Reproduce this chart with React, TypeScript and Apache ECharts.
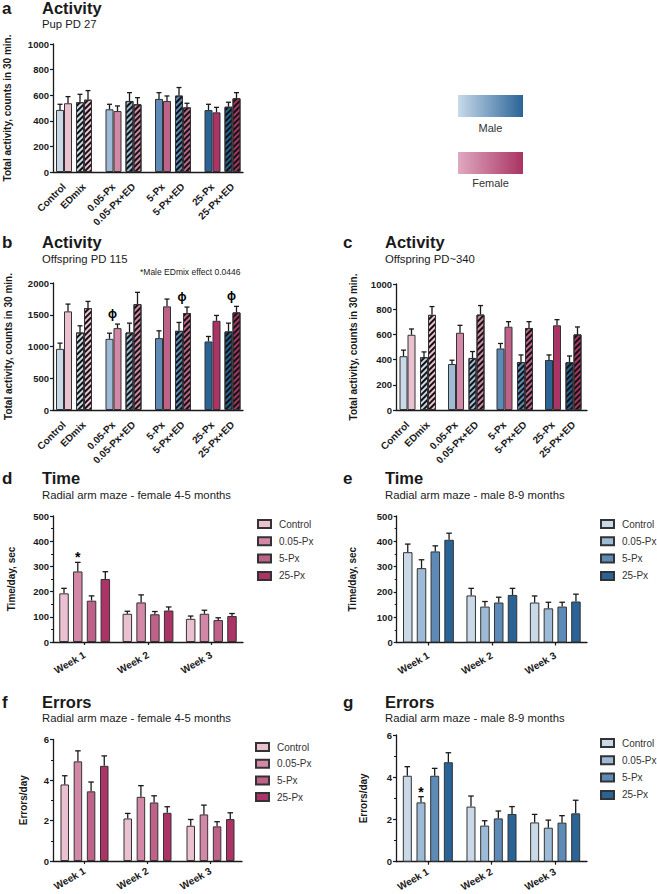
import React, { useEffect, useRef } from 'react';
import * as echarts from 'echarts';

const FONT = 'Arial, "Liberation Sans", Helvetica, sans-serif';
const INK = '#1a1a1a';

// ---------- categories ----------
const doseGroups = ['Control', '0.05-Px', '5-Px', '25-Px'];
const edGroups = ['EDmix', '0.05-Px+ED', '5-Px+ED', '25-Px+ED'];
const weeks = ['Week 1', 'Week 2', 'Week 3'];
const doseNames = ['Control', '0.05-Px', '5-Px', '25-Px'];

const maleColors = ['#c9d9e7', '#9dbad6', '#5e8ab8', '#2a6396'];
const femaleColors = ['#ebc0d1', '#d488a7', '#bf628a', '#ab3365'];

// ---------- panel a : Pup PD 27 ----------
const pupMale = [485, 490, 571, 484];
const pupMaleErr = [44, 39, 49, 45];
const pupFemale = [537, 476, 555, 466];
const pupFemaleErr = [52, 40, 39, 39];
const pupMaleED = [545, 555, 597, 510];
const pupMaleEDErr = [62, 65, 63, 35];
const pupFemaleED = [565, 529, 505, 576];
const pupFemaleEDErr = [71, 52, 32, 44];

// ---------- panel b : Offspring PD 115 ----------
const pd115Male = [963, 1121, 1132, 1079];
const pd115MaleErr = [90, 89, 115, 79];
const pd115Female = [1553, 1289, 1632, 1405];
const pd115FemaleErr = [115, 64, 115, 84];
const pd115MaleED = [1221, 1221, 1247, 1237];
const pd115MaleEDErr = [105, 147, 132, 131];
const pd115FemaleED = [1605, 1668, 1526, 1537];
const pd115FemaleEDErr = [105, 185, 95, 95];
const pd115Marks = ['', 'ϕ', '', ''];
const pd115MarksED = ['', '', 'ϕ', 'ϕ'];

// ---------- panel c : Offspring PD~340 ----------
const pd340Male = [427, 365, 488, 397];
const pd340MaleErr = [48, 30, 40, 40];
const pd340Female = [597, 613, 661, 672];
const pd340FemaleErr = [46, 59, 40, 45];
const pd340MaleED = [419, 413, 381, 379];
const pd340MaleEDErr = [42, 51, 56, 50];
const pd340FemaleED = [755, 757, 651, 600];
const pd340FemaleEDErr = [66, 72, 50, 59];

// ---------- panel d : Time, female (rows = dose, cols = week) ----------
const femaleTime = [
  [193, 112, 92],
  [280, 157, 112],
  [164, 110, 87],
  [250, 125, 103],
];
const femaleTimeErr = [
  [20, 10, 11],
  [36, 30, 14],
  [19, 11, 9],
  [29, 14, 10],
];
const femaleTimeMarks = [
  ['', '', ''],
  ['*', '', ''],
  ['', '', ''],
  ['', '', ''],
];

// ---------- panel e : Time, male ----------
const maleTime = [
  [357, 186, 158],
  [294, 142, 135],
  [360, 158, 142],
  [406, 188, 162],
];
const maleTimeErr = [
  [32, 28, 26],
  [33, 20, 24],
  [22, 21, 17],
  [26, 26, 29],
];

// ---------- panel f : Errors, female ----------
const femaleErrors = [
  [3.78, 2.1, 1.74],
  [4.92, 3.17, 2.3],
  [3.44, 2.89, 1.71],
  [4.7, 2.38, 2.07],
];
const femaleErrorsErr = [
  [0.43, 0.25, 0.31],
  [0.52, 0.55, 0.46],
  [0.46, 0.33, 0.23],
  [0.49, 0.3, 0.31],
];

// ---------- panel g : Errors, male ----------
const maleErrors = [
  [4.07, 2.61, 1.86],
  [2.81, 1.71, 1.61],
  [4.07, 2.05, 1.85],
  [4.71, 2.26, 2.29],
];
const maleErrorsErr = [
  [0.43, 0.5, 0.38],
  [0.27, 0.23, 0.36],
  [0.35, 0.35, 0.33],
  [0.45, 0.35, 0.62],
];
const maleErrorsMarks = [
  ['', '', ''],
  ['*', '', ''],
  ['', '', ''],
  ['', '', ''],
];

const hatch = {
  symbol: 'rect',
  symbolSize: 1,
  dashArrayX: [1, 0],
  dashArrayY: [2, 2],
  rotation: -Math.PI / 4,
  color: '#111111',
};

function buildOption() {
  const grid: any[] = [];
  const xAxis: any[] = [];
  const yAxis: any[] = [];
  const series: any[] = [];
  const legend: any[] = [];

  const addGrid = (g: any) => {
    grid.push({ ...g, containLabel: false, outerBoundsMode: 'none' });
    return grid.length - 1;
  };
  const addX = (a: any) => {
    xAxis.push(a);
    return xAxis.length - 1;
  };
  const addY = (a: any) => {
    yAxis.push(a);
    return yAxis.length - 1;
  };

  const axisLine = { show: true, onZero: true, lineStyle: { color: INK, width: 1.3 } };

  const yValueAxis = (gridIndex: number, max: number, interval: number, name: string, nameGap: number, minor: boolean) => ({
    gridIndex,
    type: 'value',
    min: 0,
    max,
    interval,
    axisLine,
    axisTick: { show: true, length: 3, lineStyle: { color: INK, width: 1.2 } },
    minorTick: minor
      ? { show: true, splitNumber: 2, length: 2, lineStyle: { color: INK, width: 1 } }
      : { show: false },
    splitLine: { show: false },
    minorSplitLine: { show: false },
    axisLabel: {
      fontSize: 9.5,
      fontWeight: 'bold',
      color: INK,
      margin: 4,
      fontFamily: FONT,
      formatter: (v: number) => String(v),
    },
    name,
    nameLocation: 'middle',
    nameGap,
    nameRotate: 90,
    nameMoveOverlap: false,
    nameTextStyle: { fontSize: 10, fontWeight: 'bold', color: INK, fontFamily: FONT },
  });

  // error bar (upper whisker) + optional annotation mark placed above markTops
  const errSeries = (
    xi: number,
    yi: number,
    means: number[],
    errs: number[],
    offset: number,
    capHalf: number,
    marks?: string[],
    markTops?: number[],
    markDx = 0,
    markFont = `bold 14px ${FONT}`,
    markGap = -2,
  ) => ({
    type: 'custom',
    xAxisIndex: xi,
    yAxisIndex: yi,
    silent: true,
    clip: false,
    z: 4,
    data: means.map((m, i) => [i, m, m + errs[i], markTops ? markTops[i] : m + errs[i]]),
    encode: { x: 0, y: [1, 2, 3] },
    renderItem: (_params: any, api: any) => {
      const i = api.value(0);
      const b = api.coord([i, api.value(1)]);
      const t = api.coord([i, api.value(2)]);
      const mt = api.coord([i, api.value(3)]);
      const x = b[0] + offset;
      const st = { stroke: INK, lineWidth: 1.3 };
      const children: any[] = [
        { type: 'line', shape: { x1: x, y1: b[1], x2: x, y2: t[1] }, style: st },
        { type: 'line', shape: { x1: x - capHalf, y1: t[1], x2: x + capHalf, y2: t[1] }, style: st },
      ];
      const mk = marks ? marks[i] : '';
      if (mk) {
        children.push({
          type: 'text',
          style: {
            text: mk,
            x: x + markDx,
            y: mt[1] - markGap,
            fill: '#000',
            font: markFont,
            align: 'center',
            textAlign: 'center',
            verticalAlign: 'bottom',
            textVerticalAlign: 'bottom',
          },
        });
      }
      return { type: 'group', children };
    },
  });

  const PAIR_W = 8;

  const activityPanel = (p: any) => {
    const gA = addGrid({ left: p.left, top: p.top, width: p.width, height: p.height });
    addX({
      gridIndex: gA,
      type: 'value',
      min: 0,
      max: 1,
      axisLine,
      axisTick: { show: false },
      axisLabel: { show: false },
      splitLine: { show: false },
    });
    addY(yValueAxis(gA, p.max, p.interval, 'Total activity, counts in 30 min.', p.nameGap, false));

    const sets = [
      { cats: doseGroups, shift: 0, m: p.male, me: p.maleErr, f: p.female, fe: p.femaleErr, marks: p.marks, hatched: false },
      { cats: edGroups, shift: p.edShift, m: p.maleED, me: p.maleEDErr, f: p.femaleED, fe: p.femaleEDErr, marks: p.marksED, hatched: true },
    ];
    sets.forEach((s) => {
      const gi = addGrid({ left: p.firstCenter - p.band / 2 + s.shift, top: p.top, width: p.band * 4, height: p.height });
      const xi = addX({
        gridIndex: gi,
        type: 'category',
        data: s.cats,
        axisLine: { show: false },
        axisTick: { show: false },
        axisLabel: {
          rotate: 45,
          interval: 0,
          margin: 13,
          fontSize: 10,
          fontWeight: 'bold',
          color: INK,
          fontFamily: FONT,
        },
      });
      const yi = addY({ gridIndex: gi, type: 'value', min: 0, max: p.max, show: false, splitLine: { show: false } });
      [
        { vals: s.m, colors: maleColors },
        { vals: s.f, colors: femaleColors },
      ].forEach((b) => {
        series.push({
          type: 'bar',
          xAxisIndex: xi,
          yAxisIndex: yi,
          data: b.vals,
          barWidth: PAIR_W,
          barGap: '0%',
          silent: true,
          itemStyle: {
            color: (prm: any) => b.colors[prm.dataIndex],
            borderColor: '#333',
            borderWidth: 1,
            decal: s.hatched ? hatch : undefined,
          },
        });
      });
      series.push(errSeries(xi, yi, s.m, s.me, -PAIR_W / 2, 2.5));
      const tops = s.m.map((v: number, i: number) => Math.max(v + s.me[i], s.f[i] + s.fe[i]));
      series.push(
        errSeries(xi, yi, s.f, s.fe, PAIR_W / 2, 2.5, s.marks, tops, -PAIR_W / 2 - 1, `bold 12px ${FONT}`, 4),
      );
    });
  };

  const mazePanel = (p: any) => {
    const gi = addGrid({ left: p.left, top: p.top, width: p.width, height: p.height });
    const xi = addX({
      gridIndex: gi,
      type: 'category',
      data: weeks,
      axisLine,
      axisTick: { show: true, alignWithLabel: true, length: 3, lineStyle: { color: INK, width: 1.2 } },
      axisLabel: {
        rotate: 30,
        interval: 0,
        margin: p.labelMargin,
        fontSize: 10,
        fontWeight: 'bold',
        color: INK,
        fontFamily: FONT,
      },
    });
    const yi = addY(yValueAxis(gi, p.max, p.interval, p.yName, p.nameGap, true));
    const bw = p.bw;
    const gap = p.gap;
    const total = 4 * bw + 3 * bw * gap;
    doseNames.forEach((d, k) => {
      series.push({
        type: 'bar',
        name: `${p.prefix}|${d}`,
        xAxisIndex: xi,
        yAxisIndex: yi,
        data: p.values[k],
        barWidth: bw,
        barGap: `${gap * 100}%`,
        silent: true,
        itemStyle: { color: p.colors[k], borderColor: '#333', borderWidth: 1 },
      });
      const off = -total / 2 + bw / 2 + k * bw * (1 + gap);
      series.push(errSeries(xi, yi, p.values[k], p.errs[k], off, 2.8, p.marks ? p.marks[k] : undefined));
    });
    legend.push({
      orient: 'vertical',
      left: p.legendLeft,
      top: p.legendTop,
      width: 80,
      padding: 0,
      itemWidth: 13,
      itemHeight: 8,
      itemGap: p.legendGap,
      icon: 'rect',
      selectedMode: false,
      formatter: (n: string) => n.split('|')[1],
      textStyle: { fontSize: 10, color: '#333', fontFamily: FONT, padding: [0, 0, 0, 3], overflow: 'none', width: 60 },
      data: doseNames.map((d) => `${p.prefix}|${d}`),
    });
  };

  activityPanel({
    left: 53, top: 44, width: 190, height: 128, max: 1000, interval: 200, nameGap: 41,
    band: 49.5, firstCenter: 64, edShift: 20,
    male: pupMale, maleErr: pupMaleErr, female: pupFemale, femaleErr: pupFemaleErr,
    maleED: pupMaleED, maleEDErr: pupMaleEDErr, femaleED: pupFemaleED, femaleEDErr: pupFemaleEDErr,
  });
  activityPanel({
    left: 53, top: 283, width: 190, height: 127, max: 2000, interval: 500, nameGap: 40,
    band: 49.5, firstCenter: 64, edShift: 20,
    male: pd115Male, maleErr: pd115MaleErr, female: pd115Female, femaleErr: pd115FemaleErr,
    maleED: pd115MaleED, maleEDErr: pd115MaleEDErr, femaleED: pd115FemaleED, femaleEDErr: pd115FemaleEDErr,
    marks: pd115Marks, marksED: pd115MarksED,
  });
  activityPanel({
    left: 396, top: 284, width: 191, height: 126, max: 1000, interval: 200, nameGap: 37.5,
    band: 48.5, firstCenter: 407.5, edShift: 20.5,
    male: pd340Male, maleErr: pd340MaleErr, female: pd340Female, femaleErr: pd340FemaleErr,
    maleED: pd340MaleED, maleEDErr: pd340MaleEDErr, femaleED: pd340FemaleED, femaleEDErr: pd340FemaleEDErr,
  });

  mazePanel({
    prefix: 'd', left: 53, top: 516, width: 190, height: 126, max: 500, interval: 100,
    yName: 'Time/day, sec', nameGap: 37, values: femaleTime, errs: femaleTimeErr, marks: femaleTimeMarks,
    colors: femaleColors, bw: 9.5, gap: 0.45, legendLeft: 257, legendTop: 519, legendGap: 7.3, labelMargin: 12,
  });
  mazePanel({
    prefix: 'e', left: 396.7, top: 516, width: 190.3, height: 126.5, max: 500, interval: 100,
    yName: 'Time/day, sec', nameGap: 39, values: maleTime, errs: maleTimeErr,
    colors: maleColors, bw: 9.5, gap: 0.45, legendLeft: 600, legendTop: 519, legendGap: 7.3, labelMargin: 12,
  });
  mazePanel({
    prefix: 'f', left: 53, top: 739.5, width: 189, height: 121.5, max: 6, interval: 2,
    yName: 'Errors/day', nameGap: 25, values: femaleErrors, errs: femaleErrorsErr,
    colors: femaleColors, bw: 8.5, gap: 0.55, legendLeft: 255, legendTop: 742, legendGap: 6.7, labelMargin: 9,
  });
  mazePanel({
    prefix: 'g', left: 396, top: 735, width: 191, height: 126.7, max: 6, interval: 2,
    yName: 'Errors/day', nameGap: 28, values: maleErrors, errs: maleErrorsErr, marks: maleErrorsMarks,
    colors: maleColors, bw: 9, gap: 0.52, legendLeft: 600, legendTop: 738, legendGap: 7.3, labelMargin: 9,
  });

  const txt = (text: string, x: number, y: number, size: number, weight = 'normal', align = 'left', color = INK) => ({
    type: 'text',
    x,
    y,
    silent: true,
    style: {
      text,
      fill: color,
      font: `${weight} ${size}px ${FONT}`,
      align,
      textAlign: align,
      verticalAlign: 'middle',
      textVerticalAlign: 'middle',
    },
  });

  const gradRect = (x: number, y: number, c0: string, c1: string) => ({
    type: 'rect',
    silent: true,
    shape: { x, y, width: 65, height: 22 },
    style: {
      fill: new echarts.graphic.LinearGradient(0, 0, 1, 0, [
        { offset: 0, color: c0 },
        { offset: 1, color: c1 },
      ]),
    },
  });

  const graphic = [
    txt('a', 2, 8.6, 17, 'bold'),
    txt('Activity', 42, 8.4, 16.5, 'bold'),
    txt('Pup PD 27', 42, 24, 11.3),
    txt('b', 2, 242, 17, 'bold'),
    txt('Activity', 42, 242, 16.5, 'bold'),
    txt('Offspring PD 115', 42, 259, 11.3),
    txt('*Male EDmix effect 0.0446', 140, 272, 8.5),
    txt('c', 343, 242, 17, 'bold'),
    txt('Activity', 385, 242, 16.5, 'bold'),
    txt('Offspring PD~340', 385, 259, 11.3),
    txt('d', 2, 478, 17, 'bold'),
    txt('Time', 42, 478, 16.5, 'bold'),
    txt('Radial arm maze - female 4-5 months', 42, 495, 11.3),
    txt('e', 343, 478, 17, 'bold'),
    txt('Time', 385, 478, 16.5, 'bold'),
    txt('Radial arm maze - male 8-9 months', 385, 495, 11.3),
    txt('f', 2, 702, 17, 'bold'),
    txt('Errors', 42, 702, 16.5, 'bold'),
    txt('Radial arm maze - female 4-5 months', 42, 718, 11.3),
    txt('g', 343, 702, 17, 'bold'),
    txt('Errors', 385, 702, 16.5, 'bold'),
    txt('Radial arm maze - male 8-9 months', 385, 718, 11.3),
    gradRect(458, 95, '#c8daea', '#2a6497'),
    txt('Male', 490.5, 127.5, 11, 'normal', 'center', '#333'),
    gradRect(458, 152, '#dfa9c1', '#aa3363'),
    txt('Female', 490.5, 182.5, 11, 'normal', 'center', '#333'),
  ];

  return {
    animation: false,
    backgroundColor: '#ffffff',
    textStyle: { fontFamily: FONT },
    grid,
    xAxis,
    yAxis,
    legend,
    series,
    graphic,
  };
}

export default function App() {
  const ref = useRef<HTMLDivElement>(null);
  useEffect(() => {
    if (!ref.current) return;
    const chart = echarts.init(ref.current, undefined, { renderer: 'svg' });
    chart.setOption(buildOption() as any);
    return () => chart.dispose();
  }, []);
  return (
    <div
      ref={ref}
      style={{ position: 'absolute', left: 0, top: 0, width: 657, height: 894, background: '#fff' }}
    />
  );
}
